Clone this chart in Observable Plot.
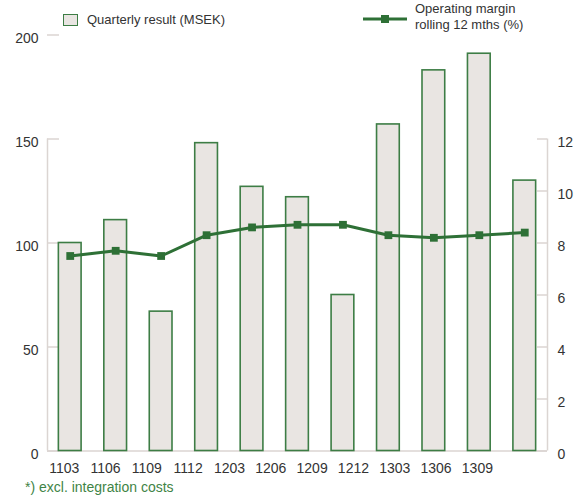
<!DOCTYPE html>
<html>
<head>
<meta charset="utf-8">
<script src="https://cdn.jsdelivr.net/npm/d3@7"></script>
<script src="https://cdn.jsdelivr.net/npm/@observablehq/plot@0.6"></script>
<style>
  html, body { margin: 0; padding: 0; background: #fff; }
  #wrap { position: relative; width: 576px; height: 495px; font-family: "Liberation Sans", Arial, sans-serif; color: #333; }
  #wrap svg { position: absolute; left: 0; top: 0; }
  .lg { position: absolute; font-size: 13px; line-height: 16px; white-space: nowrap; color: #333; }
  .note { position: absolute; left: 25px; top: 478px; font-size: 14px; line-height: 18px; color: #3f8446; white-space: nowrap; }
</style>
</head>
<body>
<div id="wrap"></div>
<script>
// ---- data ----
const quarters = ["1103","1106","1109","1112","1203","1206","1209","1212","1303","1306","1309"];
const quarterlyResult = [100, 111, 67, 148, 127, 122, 75, 157, 183, 191, 130]; // MSEK
const operatingMargin = [7.5, 7.7, 7.5, 8.3, 8.6, 8.7, 8.7, 8.3, 8.2, 8.3, 8.4]; // %
const leftTicks = [0, 50, 100, 150, 200];
const rightTicks = [0, 2, 4, 6, 8, 10, 12];
const legendBar = "Quarterly result (MSEK)";
const legendLine = ["Operating margin", "rolling 12 mths (%)"];
const footnote = "*) excl. integration costs";

// ---- styling ----
const GREEN = "#2e7036";
const BAR_STROKE = "#3d7d45";
const BAR_FILL = "#e9e5e2";
const AXIS = "#dbd5d2";
const ratio = 12.5;             // right axis 12 ↔ left axis 150
const xMin = -0.5, xMax = quarters.length - 0.5;
const leftAxisTop = 150;

const rows = quarters.map((q, i) => ({q, i, value: quarterlyResult[i], margin: operatingMargin[i]}));

const font = '"Liberation Sans", Arial, sans-serif';

const chart = Plot.plot({
  width: 576,
  height: 495,
  marginLeft: 47,
  marginRight: 29,
  marginTop: 138.5,
  marginBottom: 44.5,
  style: {fontFamily: font, fontSize: "14px", color: "#333", background: "transparent"},
  x: {type: "linear", domain: [xMin, xMax], axis: null},
  y: {domain: [0, 200], range: [450.5, 34.5], axis: null},
  marks: [
    // axis lines
    Plot.ruleX([xMin], {y1: 0, y2: leftAxisTop, stroke: AXIS, strokeWidth: 1.5}),
    Plot.ruleX([xMax], {y1: 0, y2: leftAxisTop, stroke: AXIS, strokeWidth: 1.5}),
    Plot.ruleY([0], {stroke: AXIS, strokeWidth: 1.5}),
    // inward ticks
    Plot.ruleY(leftTicks, {stroke: AXIS, strokeWidth: 1.5, insetRight: 488}),
    Plot.ruleY(rightTicks.map(d => d * ratio), {stroke: AXIS, strokeWidth: 1.5, insetLeft: 490}),
    // axis labels
    Plot.axisY({anchor: "left", label: null, ticks: leftTicks, tickSize: 0, tickPadding: 9, dy: 4, fontSize: 14, fill: "#333"}),
    Plot.axisY({anchor: "right", label: null, ticks: rightTicks.map(d => d * ratio), tickFormat: d => d / ratio, tickSize: 0, tickPadding: 10, dy: 4, fontSize: 14, fill: "#333"}),
    // bars
    Plot.rect(rows, {x1: d => d.i - 0.25, x2: d => d.i + 0.25, y1: 0, y2: "value", fill: BAR_FILL, stroke: BAR_STROKE, strokeWidth: 1.6}),
    // line
    Plot.line(rows, {x: "i", y: d => d.margin * ratio, stroke: GREEN, strokeWidth: 3}),
    Plot.dot(rows, {x: "i", y: d => d.margin * ratio, symbol: "square", r: 4.4, fill: GREEN, stroke: null}),
    // category labels (spaced as in the original)
    Plot.text(rows, {x: d => d.i * 10 / 11 - 0.133, y: 0, text: "q", dy: 17.5, fontSize: 14, fill: "#333", lineAnchor: "middle"})
  ]
});

const wrap = document.getElementById("wrap");
wrap.appendChild(chart);

// legend: bar
const sw = document.createElement("div");
sw.style.cssText = `position:absolute;left:63px;top:14px;width:13px;height:10px;background:${BAR_FILL};border:1.5px solid ${BAR_STROKE};`;
wrap.appendChild(sw);
const t1 = document.createElement("div");
t1.className = "lg";
t1.style.left = "87px"; t1.style.top = "12px";
t1.textContent = legendBar;
wrap.appendChild(t1);

// legend: line
const ns = "http://www.w3.org/2000/svg";
const ls = document.createElementNS(ns, "svg");
ls.setAttribute("width", 50); ls.setAttribute("height", 12);
ls.style.cssText = "position:absolute;left:360px;top:13px;";
const ln = document.createElementNS(ns, "line");
ln.setAttribute("x1", 3); ln.setAttribute("x2", 47); ln.setAttribute("y1", 6); ln.setAttribute("y2", 6);
ln.setAttribute("stroke", GREEN); ln.setAttribute("stroke-width", 3);
ls.appendChild(ln);
const sq = document.createElementNS(ns, "rect");
sq.setAttribute("x", 21); sq.setAttribute("y", 2); sq.setAttribute("width", 8); sq.setAttribute("height", 8);
sq.setAttribute("fill", GREEN);
ls.appendChild(sq);
wrap.appendChild(ls);
const t2 = document.createElement("div");
t2.className = "lg";
t2.style.left = "415px"; t2.style.top = "1px";
t2.innerHTML = legendLine.join("<br>");
wrap.appendChild(t2);

// footnote
const fn = document.createElement("div");
fn.className = "note";
fn.textContent = footnote;
wrap.appendChild(fn);
</script>
</body>
</html>
